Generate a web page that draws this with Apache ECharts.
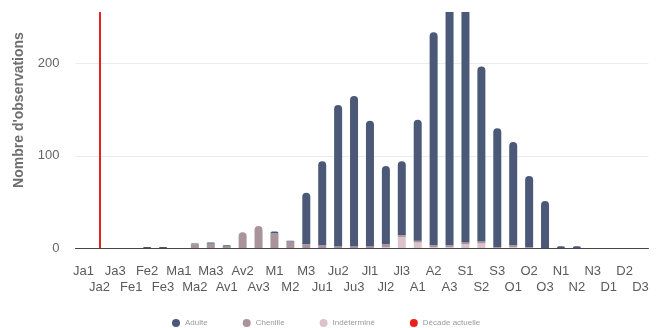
<!DOCTYPE html>
<html>
<head>
<meta charset="utf-8">
<script src="https://cdn.jsdelivr.net/npm/echarts@6/dist/echarts.min.js"></script>
<style>html,body{margin:0;padding:0;background:#fff}#c{width:662px;height:328px}</style>
</head>
<body>
<div id="c"></div>
<script>
const categories = ['Ja1','Ja2','Ja3','Fe1','Fe2','Fe3','Ma1','Ma2','Ma3','Av1','Av2','Av3','M1','M2','M3','Ju1','Ju2','Ju3','Jl1','Jl2','Jl3','A1','A2','A3','S1','S2','S3','O1','O2','O3','N1','N2','N3','D1','D2','D3'];
const adulte      = [0,0,0,0,1,1,0,1,1,1,0,0,2,1,56,91,153,163,136,85,80,131,231,300,290,190,129,112,77,51,2,2,0,0,0,0];
const chenille    = [0,0,0,0,0,0,0,4,5,2,17,24,16,7,4,3,2,2,2,3,2,2,2,2,2,2,1,2,1,0,0,0,0,0,0,0];
const indetermine = [0,0,0,0,0,0,0,0,0,0,0,0,0,0,0,0,0,0,0,1,12,6,1,1,4,5,0,1,0,0,0,0,0,0,0,0];
const currentDecade = 'Ja2';
const yMax = 256;
const yInterval = 100;

const colors = { adulte: '#4b5877', chenille: '#a8949a', indet: '#dcc3cb', red: '#e8221b' };

// stacking order bottom -> top
const stackDefs = [
  { name: 'Indéterminé', data: indetermine, color: colors.indet },
  { name: 'Chenille', data: chenille, color: colors.chenille },
  { name: 'Adulte', data: adulte, color: colors.adulte }
];
function topIndex(i) {
  let t = -1;
  stackDefs.forEach((s, k) => { if (s.data[i] > 0) t = k; });
  return t;
}
function total(i) {
  return stackDefs.reduce((a, s) => a + s.data[i], 0);
}
const barSeries = stackDefs.map((s, k) => ({
  name: s.name,
  type: 'bar',
  stack: 'obs',
  barWidth: 8,
  clip: true,
  itemStyle: { color: s.color },
  data: s.data.map((v, i) => ({
    value: v,
    itemStyle: { borderRadius: (topIndex(i) === k && total(i) <= yMax) ? [4, 4, 0, 0] : 0 }
  }))
}));

const chart = echarts.init(document.getElementById('c'));
chart.setOption({
  animation: false,
  grid: { left: 75.5, right: 13.5, top: 12, bottom: 80 },
  legend: {
    left: 167, top: 314,
    icon: 'circle', itemWidth: 8, itemHeight: 8, itemGap: 35,
    textStyle: { color: '#9a9a9a', fontSize: 8, fontFamily: 'Liberation Sans' },
    data: ['Adulte', 'Chenille', 'Indéterminé', 'Décade actuelle']
  },
  xAxis: {
    type: 'category',
    data: categories,
    axisLine: { lineStyle: { color: '#444', width: 1 } },
    axisTick: { show: false },
    axisLabel: {
      interval: 0, color: '#5a5a5a', fontSize: 13, fontFamily: 'Liberation Sans',
      margin: 15, lineHeight: 16,
      formatter: (v, i) => (i % 2 ? '\n' + v : v)
    }
  },
  yAxis: {
    type: 'value', min: 0, max: yMax, interval: yInterval,
    name: "Nombre d'observations", nameLocation: 'middle', nameGap: 49,
    nameTextStyle: { color: '#6e6e6e', fontSize: 14, fontWeight: 'bold', fontFamily: 'Liberation Sans', padding: [0, 0, 0, 40] },
    axisLabel: { color: '#666', fontSize: 13, fontFamily: 'Liberation Sans', margin: 16,
      formatter: v => (v % yInterval === 0 ? String(v) : '') },
    splitLine: { lineStyle: { color: ['rgba(0,0,0,0)', '#ebebeb', '#ebebeb', 'rgba(0,0,0,0)'] } }
  },
  series: barSeries.concat([{
    name: 'Décade actuelle',
    type: 'line',
    data: categories.map(() => null),
    itemStyle: { color: colors.red },
    markLine: {
      silent: true, symbol: 'none',
      label: { show: false },
      lineStyle: { color: colors.red, width: 2, type: 'solid' },
      data: [{ xAxis: currentDecade }]
    }
  }])
});
</script>
</body>
</html>
